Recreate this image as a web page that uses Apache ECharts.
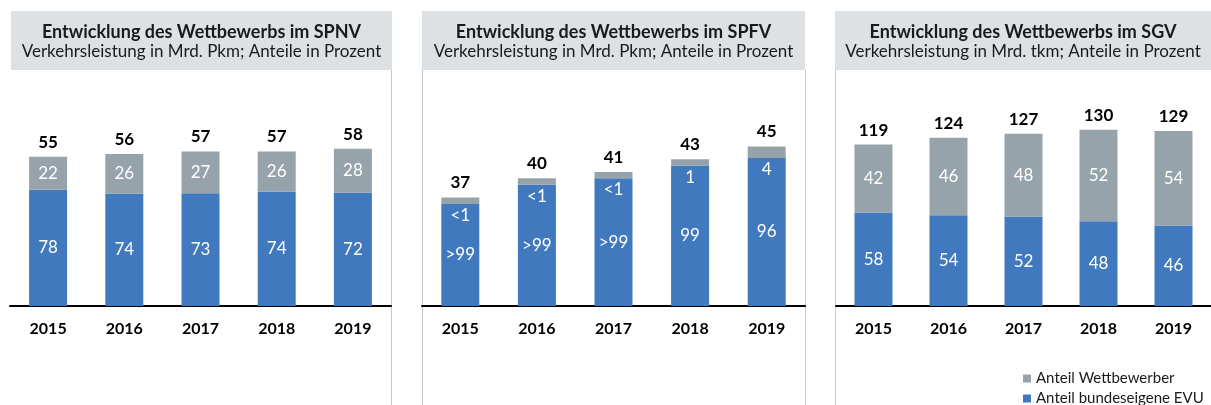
<!DOCTYPE html>
<html><head><meta charset="utf-8">
<script src="https://cdn.jsdelivr.net/npm/echarts@6/dist/echarts.min.js"></script>
<style>html,body{margin:0;padding:0;background:#fff}#c{width:1211px;height:405px}</style>
</head><body><div id="c"></div>
<script>
const years = ['2015','2016','2017','2018','2019'];
// SPNV: Verkehrsleistung (Mrd. Pkm) and shares (%)
const spnvTotal = [55, 56, 57, 57, 58];
const spnvShareDB = [78, 74, 73, 74, 72];
const spnvShareComp = [22, 26, 27, 26, 28];
// SPFV: segment sizes as drawn (Mrd. Pkm) and share labels
const spfvTotal = [37, 40, 41, 43, 45];
const spfvDB = [36, 39, 40, 42, 43.2];
const spfvComp = [1, 1, 1, 1, 1.8];
const spfvLabelDB = ['>99', '>99', '>99', '99', '96'];
const spfvLabelComp = ['<1', '<1', '<1', '1', '4'];
// SGV: Verkehrsleistung (Mrd. tkm) and shares (%)
const sgvTotal = [119, 124, 127, 130, 129];
const sgvShareDB = [58, 54, 52, 48, 46];
const sgvShareComp = [42, 46, 48, 52, 54];

const titles = ['Entwicklung des Wettbewerbs im SPNV','Entwicklung des Wettbewerbs im SPFV','Entwicklung des Wettbewerbs im SGV'];
const subtitles = ['Verkehrsleistung in Mrd. Pkm; Anteile in Prozent','Verkehrsleistung in Mrd. Pkm; Anteile in Prozent','Verkehrsleistung in Mrd. tkm; Anteile in Prozent'];

const BLUE = '#4179bf', GRAY = '#97a3ab', BOX = '#dde1e4', SEP = '#c9c9c9';
const FONT = 'Lato, "Noto Sans", sans-serif';
const nameComp = 'Anteil Wettbewerber', nameDB = 'Anteil bundeseigene EVU';

const panels = [
  {left: 10, width: 381, min: 0, max: 80,
   db: spnvTotal.map((t,i)=>t*spnvShareDB[i]/100), comp: spnvTotal.map((t,i)=>t*spnvShareComp[i]/100),
   dbLab: spnvShareDB.map(String), compLab: spnvShareComp.map(String), total: spnvTotal, compPos: 'inside'},
  {left: 422, width: 383, min: 20, max: 54,
   db: spfvDB, comp: spfvComp, dbLab: spfvLabelDB, compLab: spfvLabelComp, total: spfvTotal, compPos: 'bottom'},
  {left: 836, width: 375, min: 0, max: 160,
   db: sgvTotal.map((t,i)=>t*sgvShareDB[i]/100), comp: sgvTotal.map((t,i)=>t*sgvShareComp[i]/100),
   dbLab: sgvShareDB.map(String), compLab: sgvShareComp.map(String), total: sgvTotal, compPos: 'inside'}
];

const grid = [], xAxis = [], yAxis = [], series = [];
panels.forEach((p, k) => {
  grid.push({left: p.left, width: p.width, top: 89, height: 217});
  xAxis.push({type: 'category', gridIndex: k, data: years,
    axisLine: {lineStyle: {color: '#000', width: 2}}, axisTick: {show: false},
    axisLabel: {color: '#000', fontWeight: 'bold', fontSize: 16, fontFamily: FONT, margin: 15}});
  yAxis.push({type: 'value', gridIndex: k, min: p.min, max: p.max, startValue: p.min, show: false, splitLine: {show: false}});
  const stack = 's' + k;
  series.push({name: nameDB, type: 'bar', xAxisIndex: k, yAxisIndex: k, stack, barWidth: 38,
    data: p.db, itemStyle: {color: BLUE},
    label: {show: true, position: 'inside', color: '#fff', fontSize: 17, fontFamily: FONT,
      formatter: (q) => p.dbLab[q.dataIndex]}});
  series.push({name: nameComp, type: 'bar', xAxisIndex: k, yAxisIndex: k, stack, barWidth: 38,
    data: p.comp, itemStyle: {color: GRAY},
    label: {show: true, position: p.compPos, distance: 3, color: '#fff', fontSize: 17, fontFamily: FONT,
      formatter: (q) => p.compLab[q.dataIndex]}});
  series.push({name: 'Summe', type: 'bar', xAxisIndex: k, yAxisIndex: k, stack, barWidth: 38,
    data: p.total.map(() => 0), itemStyle: {color: 'rgba(0,0,0,0)'}, silent: true,
    label: {show: true, position: 'top', distance: 6, color: '#000', fontWeight: 'bold', fontSize: 17, fontFamily: FONT,
      formatter: (q) => String(p.total[q.dataIndex])}});
});

const boxes = [[11, 392], [422, 805], [835, 1211]];
const graphic = [];
boxes.forEach((b, k) => {
  graphic.push({type: 'rect', shape: {x: b[0], y: 11, width: b[1]-b[0], height: 59}, style: {fill: BOX}, z: -1});
  const cx = (b[0]+b[1])/2;
  graphic.push({type: 'text', x: cx, y: 32, style: {text: titles[k], textAlign: 'center', textVerticalAlign: 'middle',
    font: 'bold 18px ' + FONT, fill: '#1a1a1a'}});
  graphic.push({type: 'text', x: cx, y: 52, style: {text: subtitles[k], textAlign: 'center', textVerticalAlign: 'middle',
    font: '17px ' + FONT, fill: '#1a1a1a'}});
});
[391.5, 422.5, 805.5, 835.5].forEach(x => {
  graphic.push({type: 'line', shape: {x1: x, y1: 70, x2: x, y2: 405}, style: {stroke: SEP, lineWidth: 1}});
});

const legendBase = {left: 1018, icon: 'rect', itemWidth: 8, itemHeight: 8, itemGap: 6, selectedMode: false,
  textStyle: {fontSize: 15, fontFamily: FONT, color: '#1a1a1a'}};

const chart = echarts.init(document.getElementById('c'), null, {renderer: 'canvas'});
chart.setOption({
  animation: false,
  grid, xAxis, yAxis, series, graphic,
  legend: [
    Object.assign({}, legendBase, {top: 366, data: [{name: nameComp, itemStyle: {color: GRAY}}]}),
    Object.assign({}, legendBase, {top: 386, data: [{name: nameDB, itemStyle: {color: BLUE}}]})
  ]
});
</script></body></html>
